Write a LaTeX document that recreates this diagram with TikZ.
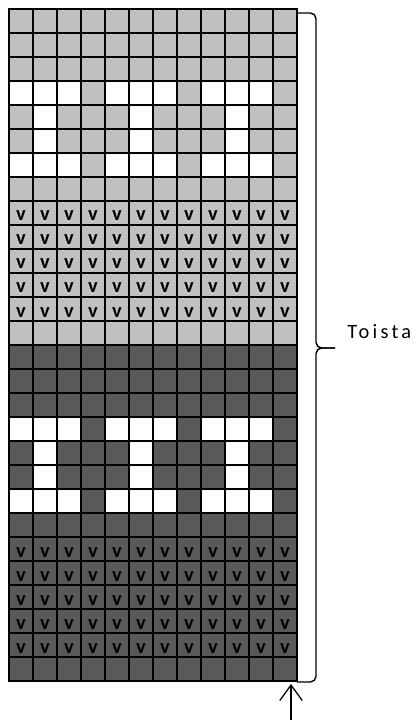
\documentclass[tikz,border=0pt]{standalone}
\usepackage{fontspec}
\setmainfont{Carlito}
\usetikzlibrary{arrows.meta}
\definecolor{lightrow}{RGB}{192,192,192}
\definecolor{darkrow}{RGB}{89,89,89}
\tikzset{
  cellline/.style={line width=1.4pt,black,line cap=rect},
  markv/.style={font=\bfseries\fontsize{14.5}{14.5}\selectfont,inner sep=0pt,anchor=base},
  bracket/.style={line width=1pt,rounded corners=4pt},
}
\begin{document}
\begin{tikzpicture}[x=0.025cm,y=-0.025cm]
\useasboundingbox (0,0) rectangle (417,720);
\fill[lightrow] (9,9) rectangle (297,345);
\fill[darkrow] (9,345) rectangle (297,681);
% white motif
\foreach \r in {3,6,17,20}
  \foreach \c in {0,1,2,4,5,6,8,9,10}
    \fill[white] (9+24*\c,9+24*\r) rectangle ++(24,24);
\foreach \r in {4,5,18,19}
  \foreach \c in {1,5,9}
    \fill[white] (9+24*\c,9+24*\r) rectangle ++(24,24);
% grid
\foreach \i in {0,...,12}
  \draw[cellline] (9+24*\i,9) -- (9+24*\i,681);
\foreach \j in {0,...,28}
  \draw[cellline] (9,9+24*\j) -- (297,9+24*\j);
% v marks
\foreach \r in {8,9,10,11,12,22,23,24,25,26}
  \foreach \c in {0,...,11}
    \node[markv] (v-\r-\c) at (21+24*\c,9+24*\r+20) {v};
% repeat brace
\coordinate (braceTop) at (297,13);
\coordinate (braceBot) at (297,682);
\coordinate (braceTip) at (335,348);
\draw[bracket] (braceTop) -- ++(19,0) -- (316,348) -- (braceTip);
\draw[bracket] (braceBot) -- ++(19,0) -- (316,348) -- (braceTip);
\node[anchor=base west,inner sep=0pt,font=\addfontfeature{LetterSpace=16}\fontsize{14.5}{14.5}\selectfont] (toista) at (347,339) {Toista};
% start arrow
\coordinate (arrowFoot) at (291,720);
\coordinate (arrowHead) at (291,684);
\draw[line width=0.9pt,-{Straight Barb[length=11pt,width=16pt]}] (arrowFoot) -- (arrowHead);
\end{tikzpicture}
\end{document}
